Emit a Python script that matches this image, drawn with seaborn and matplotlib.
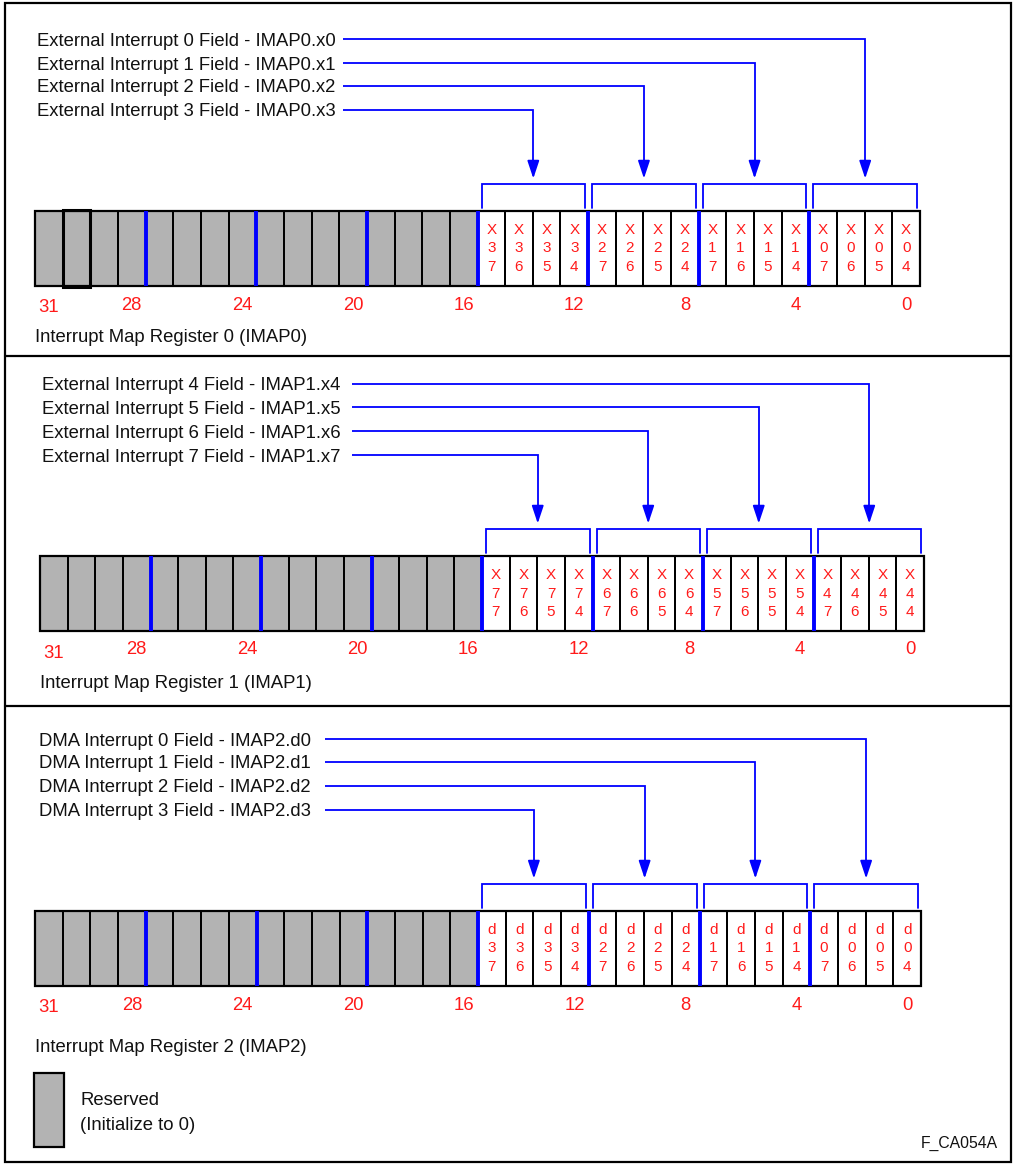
import numpy as np
import seaborn as sns
import matplotlib.pyplot as plt
from matplotlib.colors import ListedColormap
from matplotlib.patches import Rectangle

# register contents
register_titles = ["Interrupt Map Register 0 (IMAP0)",
                   "Interrupt Map Register 1 (IMAP1)",
                   "Interrupt Map Register 2 (IMAP2)"]
imap0_fields = ["External Interrupt 0 Field - IMAP0.x0",
                "External Interrupt 1 Field - IMAP0.x1",
                "External Interrupt 2 Field - IMAP0.x2",
                "External Interrupt 3 Field - IMAP0.x3"]
imap1_fields = ["External Interrupt 4 Field - IMAP1.x4",
                "External Interrupt 5 Field - IMAP1.x5",
                "External Interrupt 6 Field - IMAP1.x6",
                "External Interrupt 7 Field - IMAP1.x7"]
imap2_fields = ["DMA Interrupt 0 Field - IMAP2.d0",
                "DMA Interrupt 1 Field - IMAP2.d1",
                "DMA Interrupt 2 Field - IMAP2.d2",
                "DMA Interrupt 3 Field - IMAP2.d3"]
cell_prefix = ["X", "X", "d"]
field_base = [0, 4, 0]
reserved_bits = 16
bit_ticks = [31, 28, 24, 20, 16, 12, 8, 4, 0]
group_bits = [28, 24, 20, 16, 12, 8, 4]

W, H = 1013, 1164
GRAY = "#b3b3b3"
RED = "#ff1a1a"
BLUE = "#0000ff"

# layout (pixels)
reg_x0 = [35, 40, 35]
reg_x1 = [920, 924, 921]
reg_top = [211, 556, 911]
reg_bot = [286, 631, 986]
label_x = [37, 42, 39]
label_y = [[39, 63, 86, 110], [384, 407, 431, 455], [739, 762, 786, 810]]
line_start = [343, 352, 325]
title_y = [342, 688, 1052]

sns.set_theme(style="white")
plt.rcParams["font.family"] = ["Liberation Sans", "DejaVu Sans"]

fig = plt.figure(figsize=(W / 100, H / 100), dpi=100)
ax = fig.add_axes([0, 0, 1, 1])
ax.set_xlim(0, W)
ax.set_ylim(H, 0)
ax.axis("off")

# frame and panel dividers
ax.add_patch(Rectangle((5, 3), 1006, 1159, fill=False, ec="black", lw=1.6))
for yd in [356, 706]:
    ax.plot([5, 1011], [yd, yd], color="black", lw=1.6)

all_fields = [imap0_fields, imap1_fields, imap2_fields]

for p in range(3):
    x0, x1, yt, yb = reg_x0[p], reg_x1[p], reg_top[p], reg_bot[p]
    cw = (x1 - x0) / 32

    # register cells via heatmap
    cols = np.arange(32)
    bits = 31 - cols
    data = (bits >= reserved_bits).astype(float).reshape(1, 32)
    annot = np.array([["" if b >= reserved_bits else
                       f"{cell_prefix[p]}\n{b // 4 + field_base[p]}\n{b % 4 + 4}"
                       for b in bits]])
    hax = fig.add_axes([x0 / W, 1 - yb / H, (x1 - x0) / W, (yb - yt) / H])
    sns.heatmap(data, ax=hax, cmap=ListedColormap(["white", GRAY]), vmin=0, vmax=1,
                cbar=False, linewidths=1.3, linecolor="black",
                annot=annot, fmt="", xticklabels=False, yticklabels=False,
                annot_kws=dict(color=RED, fontsize=11, linespacing=1.45))
    hax.patch.set_alpha(0)
    hax.add_patch(Rectangle((0, 0), 32, 1, fill=False, ec="black", lw=1.6, clip_on=False))
    hax.vlines([31 - g + 1 for g in group_bits], 0, 1, colors=BLUE, lw=2.8)
    if p == 0:
        hax.add_patch(Rectangle((1, -0.01), 1, 1.02, fill=False, ec="black", lw=2.2, clip_on=False))

    # bit numbers
    for b in bit_ticks:
        cx = x0 + (31 - b + 0.5) * cw
        dy = 3 if b == 31 else 0
        ax.text(cx, yb + 23.5 + dy, str(b), color=RED, fontsize=13.3,
                ha="center", va="baseline")

    ax.text(x0, title_y[p], register_titles[p], fontsize=13.3, color="#111111",
            ha="left", va="baseline")

    # field labels, leader lines, arrows, brackets
    for i, lab in enumerate(all_fields[p]):
        ly = label_y[p][i]
        ax.text(label_x[p], ly + 6.5, lab, fontsize=13.3, color="#111111",
                ha="left", va="baseline")
        c0 = 28 - 4 * i
        bl = x0 + c0 * cw + 4
        br = x0 + (c0 + 4) * cw - 3
        ax_x = (bl + br) / 2
        btop = yt - 27.5
        bbot = yt - 3.5
        ax.plot([line_start[p], ax_x, ax_x], [ly, ly, btop - 12],
                color=BLUE, lw=1.3, solid_capstyle="butt", solid_joinstyle="miter")
        ax.annotate("", xy=(ax_x, btop - 5), xytext=(ax_x, btop - 14),
                    arrowprops=dict(arrowstyle="-|>,head_length=0.9,head_width=0.3",
                                    color=BLUE, lw=1.3, shrinkA=0, shrinkB=0))
        ax.plot([bl, bl, br, br], [bbot, btop, btop, bbot], color=BLUE, lw=1.3,
                solid_joinstyle="miter")

# legend
ax.add_patch(Rectangle((34, 1073), 30, 74, fc=GRAY, ec="black", lw=1.6))
ax.text(80, 1105, "Reserved", fontsize=13.3, color="#111111", va="baseline")
ax.text(80, 1130, "(Initialize to 0)", fontsize=13.3, color="#111111", va="baseline")
ax.text(998, 1148, "F_CA054A", fontsize=11.3, color="#111111", ha="right", va="baseline")

fig.savefig("out.png", dpi=100)
